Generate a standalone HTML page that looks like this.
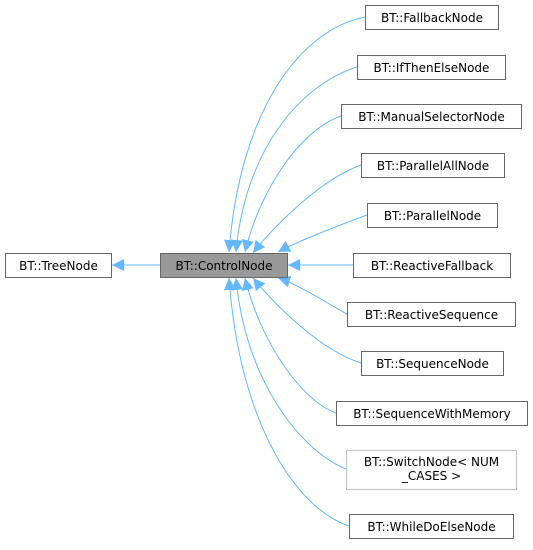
<!DOCTYPE html>
<html><head><meta charset="utf-8"><style>
html,body{margin:0;padding:0;background:#fff;}
svg text{font-family:"DejaVu Sans","Liberation Sans",sans-serif;font-size:12px;fill:#000;}
</style></head><body>
<svg width="533" height="545" viewBox="0 0 533 545" xmlns="http://www.w3.org/2000/svg">
<defs>
<marker id="a" viewBox="0 0 12 12" refX="12" refY="6" markerWidth="12" markerHeight="12" markerUnits="userSpaceOnUse" orient="auto">
<path d="M0,0 L12,6 L0,12 z" fill="#63b8ff"/>
</marker>
</defs>
<g fill="none" stroke="#63b8ff" stroke-width="1" marker-end="url(#a)">
<path d="M160,265 L112,265"/>
<path d="M365,17 C300,30 240,110 229,252"/>
<path d="M357,67 C300,85 245,150 236,252"/>
<path d="M341,116 C300,130 260,190 245,252"/>
<path d="M361,165 C320,180 275,225 253,253"/>
<path d="M367,215 C340,225 300,240 278,252"/>
<path d="M353,265 L288,265"/>
<path d="M347,314 C330,305 300,285 278,278"/>
<path d="M361,363 C320,350 275,305 253,278"/>
<path d="M336,413 C300,400 260,340 245,278"/>
<path d="M346,469 C300,450 245,380 236,278"/>
<path d="M349,526 C300,510 240,430 229,278"/>
</g>
<g stroke-width="1">
<rect x="5.5" y="253.5" width="106" height="24" fill="#fff" stroke="#666"/>
<rect x="160.5" y="253.5" width="127" height="24" fill="#999" stroke="#666"/>
<rect x="365.5" y="5.5" width="133" height="24" fill="#fff" stroke="#666"/>
<rect x="357.5" y="55.5" width="148" height="24" fill="#fff" stroke="#666"/>
<rect x="341.5" y="104.5" width="180" height="24" fill="#fff" stroke="#666"/>
<rect x="361.5" y="153.5" width="143" height="24" fill="#fff" stroke="#666"/>
<rect x="367.5" y="203.5" width="130" height="24" fill="#fff" stroke="#666"/>
<rect x="353.5" y="253.5" width="157" height="24" fill="#fff" stroke="#666"/>
<rect x="347.5" y="302.5" width="168" height="24" fill="#fff" stroke="#666"/>
<rect x="361.5" y="351.5" width="142" height="24" fill="#fff" stroke="#666"/>
<rect x="336.5" y="401.5" width="191" height="24" fill="#fff" stroke="#666"/>
<rect x="346.5" y="450.5" width="170" height="39" fill="#fff" stroke="#bfbfbf"/>
<rect x="349.5" y="514.5" width="164" height="24" fill="#fff" stroke="#666"/>
</g>
<g text-anchor="middle">
<text x="58.5" y="270">BT::TreeNode</text>
<text x="224" y="270">BT::ControlNode</text>
<text x="432" y="22">BT::FallbackNode</text>
<text x="431.5" y="72">BT::IfThenElseNode</text>
<text x="431.5" y="121">BT::ManualSelectorNode</text>
<text x="433" y="170">BT::ParallelAllNode</text>
<text x="432.5" y="220">BT::ParallelNode</text>
<text x="432" y="270">BT::ReactiveFallback</text>
<text x="431.5" y="319">BT::ReactiveSequence</text>
<text x="432.5" y="368">BT::SequenceNode</text>
<text x="432" y="418">BT::SequenceWithMemory</text>
<text x="431.5" y="466">BT::SwitchNode&lt; NUM</text>
<text x="431.5" y="480">_CASES &gt;</text>
<text x="431.5" y="531">BT::WhileDoElseNode</text>
</g>
</svg>
</body></html>
